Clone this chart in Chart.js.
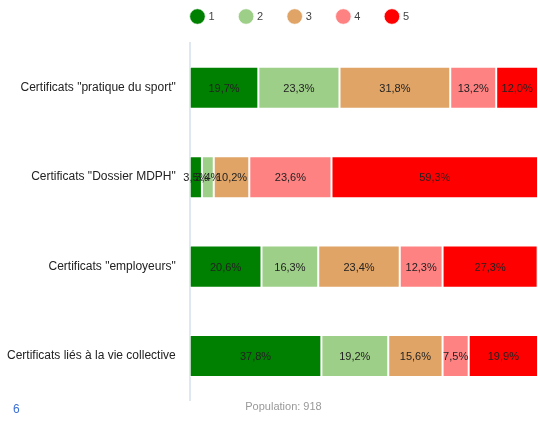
<!DOCTYPE html>
<html>
<head>
<meta charset="utf-8">
<script src="https://cdn.jsdelivr.net/npm/chart.js@4"></script>
<style>
  html, body { margin: 0; padding: 0; background: #fff; }
  #wrap { position: relative; width: 538px; height: 422px; }
  #pageNum { position: absolute; left: 13px; top: 402px; font: 12px "Liberation Sans", Arial, sans-serif; color: #3b6fd6; }
</style>
</head>
<body>
<div id="wrap">
  <canvas id="chart" width="538" height="422"></canvas>
  <div id="pageNum">6</div>
</div>
<script>
// Kategorien und Werte (in %)
const categories = [
    'Certificats "pratique du sport"',
    'Certificats "Dossier MDPH"',
    'Certificats "employeurs"',
    'Certificats liés à la vie collective'
];
const seriesNames = ['1', '2', '3', '4', '5'];
const serie1 = [19.7, 3.5, 20.6, 37.8];
const serie2 = [23.3, 3.4, 16.3, 19.2];
const serie3 = [31.8, 10.2, 23.4, 15.6];
const serie4 = [13.2, 23.6, 12.3, 7.5];
const serie5 = [12.0, 59.3, 27.3, 19.9];
const colors = ['#008000', '#9ecf88', '#e0a467', '#ff8282', '#ff0000'];
const populationText = 'Population: 918';

const allSeries = [serie1, serie2, serie3, serie4, serie5];

// Prozentwerte in den Balken zeichnen
const barLabels = {
    id: 'barLabels',
    afterDatasetsDraw(chart) {
        const ctx = chart.ctx;
        ctx.save();
        ctx.font = '11px "Liberation Sans", Arial, sans-serif';
        ctx.fillStyle = '#222';
        ctx.textAlign = 'center';
        ctx.textBaseline = 'middle';
        chart.data.datasets.forEach((ds, i) => {
            chart.getDatasetMeta(i).data.forEach((bar, j) => {
                const txt = ds.data[j].toFixed(1).replace('.', ',') + '%';
                ctx.fillText(txt, (bar.x + bar.base) / 2, bar.y + 1);
            });
        });
        ctx.restore();
    }
};

// Legende und Titel etwas verschieben
const shiftBoxes = {
    id: 'shiftBoxes',
    afterLayout(chart) {
        chart.legend.left += 35;
        chart.legend.right += 35;
        chart.legend.top -= 11;
        chart.legend.bottom -= 11;
        chart.titleBlock.left += 18;
        chart.titleBlock.right += 18;
    }
};

new Chart(document.getElementById('chart'), {
    type: 'bar',
    data: {
        labels: categories,
        datasets: allSeries.map((vals, i) => ({
            label: seriesNames[i],
            data: vals,
            backgroundColor: colors[i],
            borderColor: 'rgba(255,255,255,0.7)',
            borderWidth: 1,
            borderSkipped: false,
            categoryPercentage: 1,
            barPercentage: 0.47
        }))
    },
    options: {
        indexAxis: 'y',
        responsive: false,
        animation: false,
        layout: { padding: { left: -7, right: 0, top: -4, bottom: 0 } },
        plugins: {
            legend: {
                position: 'top',
                labels: {
                    usePointStyle: true,
                    pointStyle: 'circle',
                    boxWidth: 11,
                    boxHeight: 11,
                    padding: 26,
                    color: '#444',
                    font: { family: '"Liberation Sans", Arial, sans-serif', size: 11 }
                }
            },
            title: {
                display: true,
                position: 'bottom',
                text: populationText,
                color: '#999',
                font: { family: '"Liberation Sans", Arial, sans-serif', size: 11, weight: 'normal' },
                padding: { top: 0, bottom: 5 }
            },
            tooltip: { enabled: false }
        },
        scales: {
            x: {
                display: false,
                stacked: true,
                min: 0,
                max: 100
            },
            y: {
                stacked: true,
                grid: { display: false, drawTicks: false },
                border: { color: '#dfe7f1', width: 2 },
                ticks: {
                    color: '#222',
                    padding: 14,
                    font: { family: '"Liberation Sans", Arial, sans-serif', size: 12 }
                }
            }
        }
    },
    plugins: [barLabels, shiftBoxes]
});
</script>
</body>
</html>
